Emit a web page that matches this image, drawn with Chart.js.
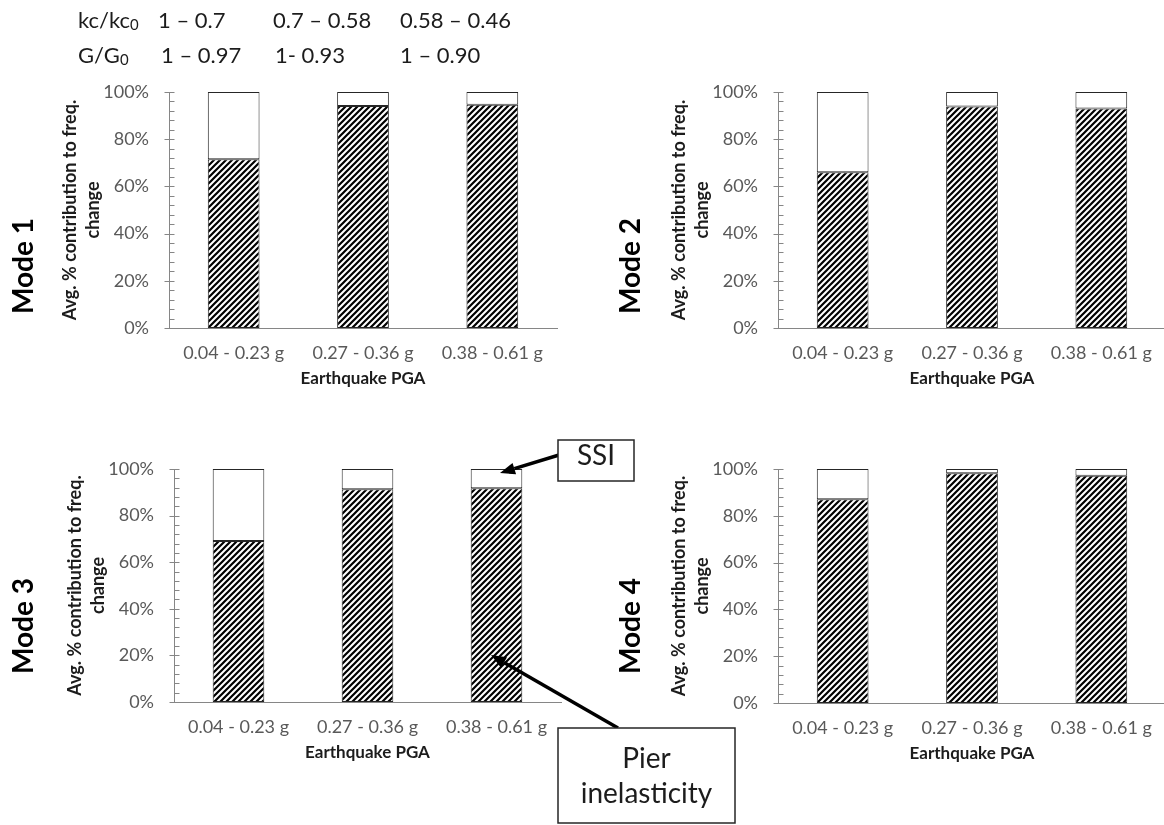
<!DOCTYPE html>
<html>
<head>
<meta charset="utf-8">
<script src="https://cdn.jsdelivr.net/npm/chart.js@4/dist/chart.umd.min.js"></script>
<style>
  html, body { margin: 0; padding: 0; background: #fff; }
  body { width: 1164px; height: 825px; overflow: hidden; position: relative; font-family: Lato, "Open Sans", sans-serif; }
  canvas.panel { position: absolute; }
  #overlay { position: absolute; left: 0; top: 0; pointer-events: none; }
</style>
</head>
<body>
<canvas id="mode1" class="panel"></canvas>
<canvas id="mode2" class="panel"></canvas>
<canvas id="mode3" class="panel"></canvas>
<canvas id="mode4" class="panel"></canvas>
<svg id="overlay" width="1164" height="825" xmlns="http://www.w3.org/2000/svg"></svg>

<script>
// ---- data ----
const pgaBins = ['0.04 - 0.23 g', '0.27 - 0.36 g', '0.38 - 0.61 g'];

// share of the frequency change (%) attributed to pier inelasticity / soil-structure interaction
const mode1Pier = [71.5, 94.1, 94.6];
const mode1Ssi  = [28.5, 5.9, 5.4];
const mode2Pier = [66.0, 93.9, 93.0];
const mode2Ssi  = [34.0, 6.1, 7.0];
const mode3Pier = [69.1, 91.3, 91.7];
const mode3Ssi  = [30.9, 8.7, 8.3];
const mode4Pier = [87.1, 98.2, 97.1];
const mode4Ssi  = [12.9, 1.8, 2.9];

const yTickValues = [0, 20, 40, 60, 80, 100];
const kcRanges = ['1 – 0.7', '0.7 – 0.58', '0.58 – 0.46'];
const gRanges  = ['1 – 0.97', '1- 0.93', '1 – 0.90'];

const yTitle = ['Avg. % contribution to freq.', 'change'];
const xTitle = 'Earthquake PGA';

// ---- styling ----
const FONT = 'Lato, "Open Sans", sans-serif';
Chart.defaults.font.family = FONT;
const AXIS_GREY = '#868686';
const LABEL_GREY = '#595959';
const INK = '#1c1c1c';
const BAR_EDGE = '#262626';
const MINOR_STEP = 4;

function hatchPattern() {
  const s = 6;
  const c = document.createElement('canvas');
  c.width = c.height = s;
  const g = c.getContext('2d');
  g.fillStyle = '#fff';
  g.fillRect(0, 0, s, s);
  g.strokeStyle = '#000';
  g.lineWidth = 2.2;
  g.beginPath();
  g.moveTo(0, s); g.lineTo(s, 0);
  g.moveTo(-s / 2, s / 2); g.lineTo(s / 2, -s / 2);
  g.moveTo(s / 2, s * 1.5); g.lineTo(s * 1.5, s / 2);
  g.stroke();
  return g.createPattern(c, 'repeat');
}
const hatch = hatchPattern();

// major ticks cross the value axis, minor ticks sit inside the plot
const axisTicks = {
  id: 'axisTicks',
  afterDraw(chart) {
    const ys = chart.scales.y;
    const x0 = Math.round(chart.chartArea.left) + 0.5;
    const ctx = chart.ctx;
    ctx.save();
    ctx.strokeStyle = AXIS_GREY;
    ctx.lineWidth = 1;
    ctx.beginPath();
    for (let v = ys.min; v <= ys.max; v += MINOR_STEP) {
      const py = Math.round(ys.getPixelForValue(v)) + 0.5;
      const major = yTickValues.includes(v);
      ctx.moveTo(major ? x0 - 5 : x0, py);
      ctx.lineTo(x0 + 5, py);
    }
    ctx.stroke();
    ctx.restore();
  }
};

// f: canvas box on the page and the plot rectangle inside it (page px)
function drawPanel(id, pier, ssi, f) {
  const cv = document.getElementById(id);
  cv.width = f.w; cv.height = f.h;
  cv.style.left = f.left + 'px';
  cv.style.top = f.top + 'px';
  const axisW = f.plotL - f.left;
  const axisH = 62;
  const yTitleSize = 18, yTitleLH = 1.3;
  new Chart(cv, {
    type: 'bar',
    data: {
      labels: pgaBins,
      datasets: [
        { label: 'Pier inelasticity', data: pier, backgroundColor: hatch,
          borderColor: BAR_EDGE, borderWidth: 1, borderSkipped: false },
        { label: 'SSI', data: ssi, backgroundColor: '#ffffff',
          borderColor: BAR_EDGE, borderWidth: 1, borderSkipped: false }
      ]
    },
    options: {
      responsive: false,
      animation: false,
      devicePixelRatio: 1,
      layout: {
        padding: {
          left: 0,
          top: f.plotT - f.top,
          right: (f.left + f.w) - f.plotR,
          bottom: f.h - (f.plotB - f.top) - axisH
        }
      },
      datasets: { bar: { barPercentage: 0.4, categoryPercentage: 1.0 } },
      plugins: { legend: { display: false }, tooltip: { enabled: false } },
      scales: {
        x: {
          stacked: true,
          grid: { display: false, drawTicks: true, tickLength: 14 },
          border: { display: true, color: AXIS_GREY, width: 1 },
          ticks: { color: LABEL_GREY, font: { size: 18 }, padding: 0, maxRotation: 0, autoSkip: false },
          title: { display: true, text: xTitle, color: INK,
                   font: { size: 17, weight: 'bold', lineHeight: 1.2 }, padding: { top: 0, bottom: 1 } },
          afterFit(s) { s.height = axisH; }
        },
        y: {
          stacked: true,
          min: 0, max: 100,
          grid: { display: false, drawTicks: true, tickLength: 20 },
          border: { display: true, color: AXIS_GREY, width: 1 },
          ticks: { stepSize: 20, color: LABEL_GREY, font: { size: 18 }, padding: 0,
                   callback: v => v + '%' },
          title: { display: true, text: yTitle, color: INK,
                   font: { size: yTitleSize, weight: 'bold', lineHeight: yTitleLH },
                   padding: { top: f.titleX - yTitleSize * yTitleLH / 2, bottom: 0 } },
          afterFit(s) { s.width = axisW; }
        }
      }
    },
    plugins: [axisTicks]
  });
}

drawPanel('mode1', mode1Pier, mode1Ssi, { left: 0,   top: 80,  w: 580, h: 320, plotL: 169, plotR: 557,  plotT: 92,  plotB: 328, titleX: 70 });
drawPanel('mode2', mode2Pier, mode2Ssi, { left: 609, top: 80,  w: 560, h: 320, plotL: 778, plotR: 1166, plotT: 92,  plotB: 328, titleX: 70 });
drawPanel('mode3', mode3Pier, mode3Ssi, { left: 5,   top: 455, w: 580, h: 320, plotL: 174, plotR: 561,  plotT: 469, plotB: 702, titleX: 70 });
drawPanel('mode4', mode4Pier, mode4Ssi, { left: 609, top: 455, w: 560, h: 320, plotL: 778, plotR: 1166, plotT: 469, plotB: 703, titleX: 70 });

// ---- header, mode labels and callouts ----
const NS = 'http://www.w3.org/2000/svg';
const svg = document.getElementById('overlay');
function el(tag, attrs, text) {
  const e = document.createElementNS(NS, tag);
  for (const k in attrs) e.setAttribute(k, attrs[k]);
  if (text !== undefined) e.textContent = text;
  svg.appendChild(e);
  return e;
}
function labelWithSub(x, y, main, sub, size) {
  const t = el('text', { x, y, 'font-family': FONT, 'font-size': size, fill: INK });
  const a = document.createElementNS(NS, 'tspan'); a.textContent = main; t.appendChild(a);
  const b = document.createElementNS(NS, 'tspan');
  b.setAttribute('font-size', size * 0.68); b.setAttribute('dy', 2); b.textContent = sub;
  t.appendChild(b);
}

const headSize = 22;
labelWithSub(78, 28, 'kc/kc', '0', headSize);
labelWithSub(78, 63, 'G/G', '0', headSize);
const kcX = [158, 273, 400], gX = [161, 275, 400];
kcRanges.forEach((s, i) => el('text', { x: kcX[i], y: 28, 'font-family': FONT, 'font-size': headSize, fill: INK, 'xml:space': 'preserve' }, s));
gRanges.forEach((s, i) => el('text', { x: gX[i], y: 63, 'font-family': FONT, 'font-size': headSize, fill: INK, 'xml:space': 'preserve' }, s));

[['Mode 1', 22, 266], ['Mode 2', 629, 266], ['Mode 3', 22, 626], ['Mode 4', 629, 626]].forEach(([s, x, y]) => {
  el('text', { x, y, 'font-family': FONT, 'font-size': 28, 'font-weight': 'bold', fill: '#000',
               'text-anchor': 'middle', 'dominant-baseline': 'central',
               transform: `rotate(-90 ${x} ${y})` }, s);
});

function arrow(x1, y1, x2, y2) {
  const ang = Math.atan2(y2 - y1, x2 - x1), len = 15, half = 6;
  const bx = x2 - len * Math.cos(ang), by = y2 - len * Math.sin(ang);
  el('line', { x1, y1, x2: bx, y2: by, stroke: '#000', 'stroke-width': 3.5 });
  const px = -Math.sin(ang) * half, py = Math.cos(ang) * half;
  el('polygon', { points: `${x2},${y2} ${bx + px},${by + py} ${bx - px},${by - py}`, fill: '#000' });
}
arrow(559, 455, 500, 473);
arrow(618, 728, 491, 655);

el('rect', { x: 558, y: 440, width: 76, height: 41, fill: '#fff', stroke: '#262626', 'stroke-width': 1.5 });
el('text', { x: 596, y: 465, 'font-family': FONT, 'font-size': 28, fill: INK, 'text-anchor': 'middle' }, 'SSI');
el('rect', { x: 558, y: 728, width: 177, height: 95, fill: '#fff', stroke: '#262626', 'stroke-width': 1.5 });
el('text', { x: 646.5, y: 768, 'font-family': FONT, 'font-size': 28, fill: INK, 'text-anchor': 'middle' }, 'Pier');
el('text', { x: 646.5, y: 803, 'font-family': FONT, 'font-size': 28, fill: INK, 'text-anchor': 'middle' }, 'inelasticity');
</script>
</body>
</html>
